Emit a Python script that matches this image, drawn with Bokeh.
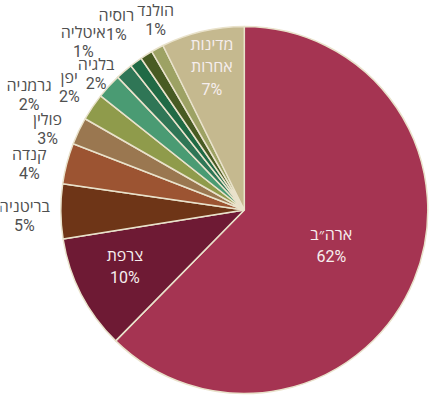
import math
from bokeh.plotting import figure
from bokeh.models import Range1d, ColumnDataSource
from bokeh.core.properties import value
from bokeh.embed import file_html
from bokeh.resources import INLINE

# ---- data ----
countries = ["ארה״ב", "צרפת", "בריטניה", "קנדה", "פולין", "גרמניה", "יפן",
             "בלגיה", "איטליה", "רוסיה", "הולנד", "מדינות\nאחרות"]
shares = [62.3, 10.1, 4.8, 3.6, 2.4, 2.4, 2.2, 1.5, 1.1, 1.1, 1.1, 7.3]
pct_labels = ["62%", "10%", "5%", "4%", "3%", "2%", "2%", "2%", "1%", "1%", "1%", "7%"]

# ---- style / layout ----
colors = ["#a53452", "#6e1a34", "#6e3517", "#9c5432", "#9a7750", "#8f9b4b",
          "#4a9b73", "#2f7656", "#206a45", "#485b23", "#9da264", "#c5b98f"]
inside = [True, True, False, False, False, False, False, False, False, False, False, True]
label_dtheta = [0, 2, -1, -2.5, -3, -6, -7.3, -6.6, -7.5, -2.4, 3.3, 0.4]
label_r = [94, 132, 220, 220, 213, 244, 214, 201, 233, 225, 210, 147]

W, H = 431, 395
OX, OY = 0, 0          # page offset of the figure in the picture
cx, cy_page, R = 243.8, 209.5, 183.5
# data coords: x = page x, y = 395 - page y
cy = 395 - cy_page

total = sum(shares)
starts, ends, mids = [], [], []
acc = 0.0
for s in shares:
    t1 = acc / total * 360.0
    acc += s
    t2 = acc / total * 360.0
    starts.append(math.radians(90 - t2))
    ends.append(math.radians(90 - t1))
    mids.append((t1 + t2) / 2)

p = figure(width=W, height=H, output_backend="svg", toolbar_location=None,
           x_range=Range1d(OX, OX + W), y_range=Range1d(395 - OY - H, 395 - OY),
           min_border=0)
p.axis.visible = False
p.grid.visible = False
p.outline_line_color = None
p.background_fill_color = None
p.border_fill_color = None

src = ColumnDataSource(dict(start=starts, end=ends, color=colors,
                            x=[cx] * len(shares), y=[cy] * len(shares)))
p.wedge(x="x", y="y", radius=R, start_angle="start", end_angle="end",
        fill_color="color", line_color="#e9e2cb", line_width=1.5, source=src)

in_x, in_y, in_t = [], [], []
out_x, out_y, out_t = [], [], []
for i, name in enumerate(countries):
    th = math.radians(mids[i] + label_dtheta[i])
    lx = cx + label_r[i] * math.sin(th)
    ly = cy + label_r[i] * math.cos(th)
    txt = name + "\n" + pct_labels[i]
    if inside[i]:
        in_x.append(lx); in_y.append(ly); in_t.append(txt)
    else:
        out_x.append(lx); out_y.append(ly); out_t.append(txt)

common = dict(text_font=value("Roboto, 'Open Sans'"), text_font_size="16px",
              text_align="center", text_baseline="middle")
p.text(x=out_x, y=out_y, text=out_t, text_color="#505050",
       text_line_height=1.0, **common)
p.text(x=in_x, y=in_y, text=in_t, text_color="#f6eeee",
       text_line_height=1.18, **common)

open("out.html", "w").write(file_html(p, INLINE))
